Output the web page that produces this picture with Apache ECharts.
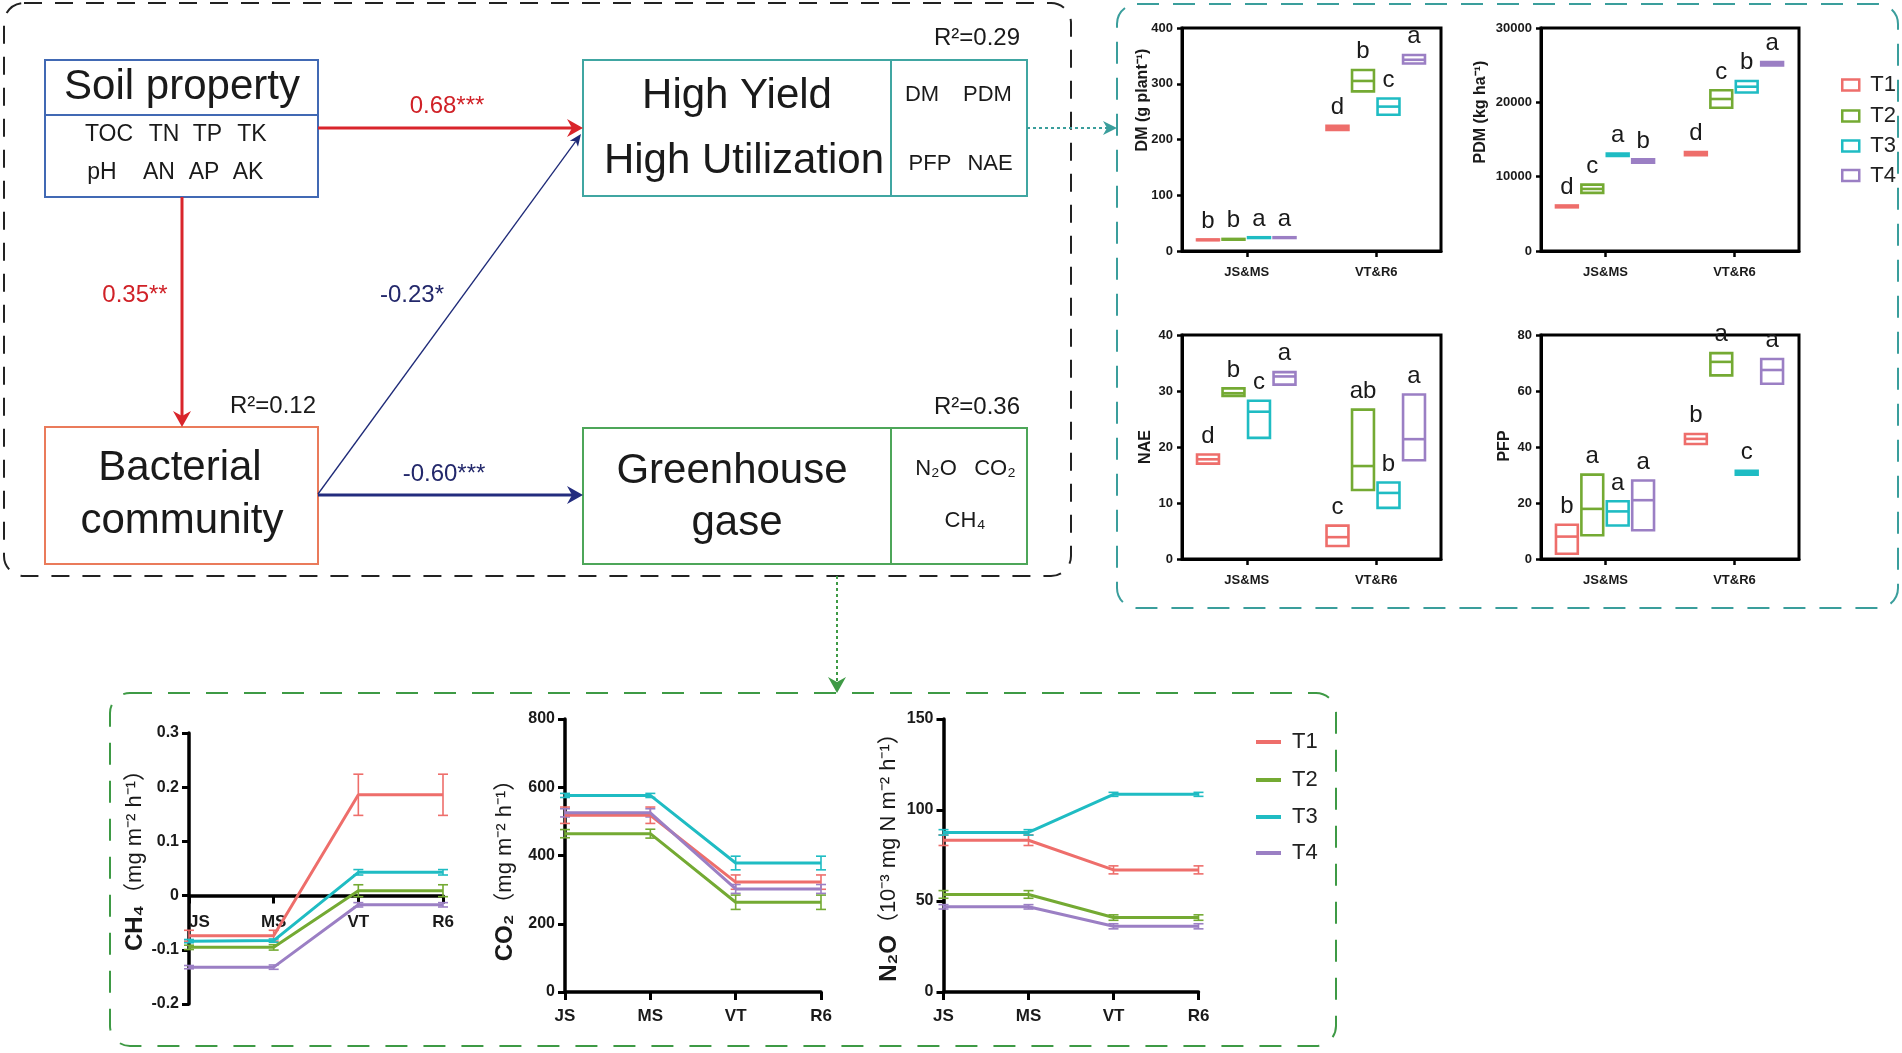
<!DOCTYPE html>
<html><head><meta charset="utf-8">
<script src="https://cdn.jsdelivr.net/npm/echarts@6/dist/echarts.min.js"></script>
<style>html,body{margin:0;padding:0;background:#fff}#c{width:1902px;height:1053px}</style>
</head><body><div id="c"></div>
<script>
// ---------------- data ----------------
const treatments = ['T1', 'T2', 'T3', 'T4'];
const stageGroups = ['JS&MS', 'VT&R6'];
const stages = ['JS', 'MS', 'VT', 'R6'];

// floating boxes per treatment: [JS&MS, VT&R6], each [low, median, high]
const dmBoxes = [
  [[17, 20, 23], [215, 221, 227]],
  [[18, 21, 24], [284, 305, 327]],
  [[21, 24, 27], [242, 259, 276]],
  [[21, 24, 27], [334, 343, 354]]
];
const pdmBoxes = [
  [[5700, 6000, 6300], [12700, 13100, 13500]],
  [[7650, 8350, 9100], [19100, 20450, 21800]],
  [[12600, 12950, 13300], [21150, 22100, 23050]],
  [[11700, 12100, 12500], [24800, 25200, 25600]]
];
const naeBoxes = [
  [[16.8, 17.8, 18.9], [2.1, 3.9, 6.2]],
  [[28.9, 29.6, 30.7], [12.1, 16.6, 26.9]],
  [[21.4, 26.3, 28.5], [8.9, 11.8, 13.9]],
  [[30.9, 32.6, 33.6], [17.4, 21.4, 29.6]]
];
const pfpBoxes = [
  [[1.4, 8.0, 12.7], [40.6, 42.9, 45.1]],
  [[8.0, 17.9, 30.6], [65.1, 70.4, 74.0]],
  [[11.5, 17.0, 21.1], [29.6, 30.8, 32.0]],
  [[9.8, 21.0, 28.5], [62.1, 67.5, 71.9]]
];
// significance letters per treatment: [JS&MS, VT&R6]
const dmLetters = [['b', 'd'], ['b', 'b'], ['a', 'c'], ['a', 'a']];
const pdmLetters = [['d', 'd'], ['c', 'c'], ['a', 'b'], ['b', 'a']];
const naeLetters = [['d', 'c'], ['b', 'ab'], ['c', 'b'], ['a', 'a']];
const pfpLetters = [['b', 'b'], ['a', 'a'], ['a', 'c'], ['a', 'a']];

// greenhouse gas fluxes per treatment over stages JS, MS, VT, R6
const ch4Mean = [[-0.074, -0.074, 0.186, 0.186], [-0.0955, -0.0955, 0.009, 0.009], [-0.084, -0.083, 0.043, 0.043], [-0.132, -0.132, -0.017, -0.017]];
const ch4Err = [[0.010, 0.010, 0.038, 0.038], [0.004, 0.005, 0.011, 0.011], [0.003, 0.003, 0.005, 0.005], [0.003, 0.004, 0.004, 0.004]];
const co2Mean = [[518, 518, 322, 322], [464, 464, 263, 263], [576, 576, 378, 378], [525, 525, 302, 302]];
const co2Err = [[24, 24, 21, 21], [12, 13, 21, 21], [6, 6, 20, 20], [12, 12, 13, 13]];
const n2oMean = [[83.4, 83.4, 67.1, 67.1], [53.6, 53.6, 40.9, 40.9], [87.7, 87.7, 108.6, 108.6], [46.8, 46.8, 36.1, 36.1]];
const n2oErr = [[2.9, 2.9, 2.2, 2.2], [2.1, 2.1, 1.5, 1.5], [1.5, 1.5, 1.1, 1.1], [1.2, 1.2, 1.4, 1.4]];

// ---------------- style ----------------
const colors = ['#EE6E6B', '#74AA33', '#1FBCC3', '#9B7FC4'];
const FF = "'Liberation Sans', Arial, 'Noto Sans CJK SC', sans-serif";
const INK = '#1a1a1a';

const chart = echarts.init(document.getElementById('c'), null, {renderer: 'canvas', width: 1902, height: 1053});

const grids = [
  {left: 1182, top: 28, width: 259, height: 223},
  {left: 1541, top: 28, width: 258, height: 223},
  {left: 1182, top: 335, width: 259, height: 224},
  {left: 1541, top: 335, width: 258, height: 224},
  {left: 189, top: 733, width: 254, height: 271},
  {left: 565, top: 719, width: 256, height: 273},
  {left: 943.5, top: 719, width: 255, height: 273}
].map((g, i) => Object.assign({
  show: i < 4, borderColor: '#000', borderWidth: 3, backgroundColor: 'rgba(0,0,0,0)',
  containLabel: false, outerBoundsMode: 'none'
}, g));

const plain = v => String(v);
const xAxes = [], yAxes = [];
const topY = [[0, 400, 100], [0, 30000, 10000], [0, 40, 10], [0, 80, 20]];
for (let k = 0; k < 4; k++) {
  xAxes.push({
    gridIndex: k, type: 'category', data: stageGroups, boundaryGap: true,
    axisLine: {show: true, lineStyle: {color: '#000', width: 3}},
    axisTick: {show: true, alignWithLabel: true, length: 6, lineStyle: {color: '#000', width: 2.5}},
    axisLabel: {fontSize: 13, fontWeight: 'bold', color: INK, margin: 15, fontFamily: FF},
    splitLine: {show: false}
  });
  yAxes.push({
    gridIndex: k, type: 'value', min: topY[k][0], max: topY[k][1], interval: topY[k][2],
    axisLine: {show: true, lineStyle: {color: '#000', width: 3}},
    axisTick: {show: true, length: 5, lineStyle: {color: '#000', width: 2.5}},
    axisLabel: {fontSize: 13, fontWeight: 'bold', color: INK, margin: 9, fontFamily: FF, formatter: plain},
    splitLine: {show: false}
  });
}
const botY = [[-0.2, 0.3, 0.1], [0, 800, 200], [0, 150, 50]];
// CH4 x axis sits on the zero line: offset = distance from grid bottom up to y = 0
const ch4ZeroOffset = -271 * (0 - botY[0][0]) / (botY[0][1] - botY[0][0]);
for (let k = 0; k < 3; k++) {
  xAxes.push({
    gridIndex: 4 + k, type: 'category', data: stages, boundaryGap: false,
    offset: k === 0 ? ch4ZeroOffset : 0,
    axisLine: {show: true, onZero: false, lineStyle: {color: '#000', width: 3.5}},
    axisTick: {show: true, length: 8, lineStyle: {color: '#000', width: 3}},
    axisLabel: Object.assign({fontSize: 17, fontWeight: 'bold', color: INK, margin: k === 0 ? 18 : 16, fontFamily: FF},
      k === 0 ? {alignMinLabel: 'left'} : {}),
    splitLine: {show: false}
  });
  yAxes.push({
    gridIndex: 4 + k, type: 'value', min: botY[k][0], max: botY[k][1], interval: botY[k][2],
    axisLine: {show: true, onZero: false, lineStyle: {color: '#000', width: 3.5}},
    axisTick: {show: true, length: 7, lineStyle: {color: '#000', width: 3}},
    axisLabel: {fontSize: 16, fontWeight: 'bold', color: INK, margin: 10, fontFamily: FF, formatter: plain},
    splitLine: {show: false}
  });
}

function boxRender(ti, letters) {
  return function (params, api) {
    const g = api.value(0);
    const lo = api.value(1), md = api.value(2), hi = api.value(3);
    const c = api.coord([g, 0])[0];
    const band = api.size([1, 0])[0];
    const w = band * 0.197;
    const x0 = c - 2 * w + ti * w;
    const lw = 2.6;
    const yH = api.coord([g, hi])[1], yL = api.coord([g, lo])[1], yM = api.coord([g, md])[1];
    const h = Math.max(yL - yH - lw, 0.2);
    const st = {fill: 'none', stroke: colors[ti], lineWidth: lw};
    return {
      type: 'group', children: [
        {type: 'rect', shape: {x: x0 + lw / 2, y: yH + lw / 2, width: w - lw - 1, height: h}, style: st},
        {type: 'line', shape: {x1: x0 + lw / 2, y1: yM, x2: x0 + w - lw / 2 - 1, y2: yM}, style: {stroke: colors[ti], lineWidth: lw}},
        {type: 'text', x: x0 + w / 2 - 0.5, y: yH - 5, style: {
          text: letters[ti][params.dataIndex], fontSize: 24, fontFamily: FF, fill: INK,
          align: 'center', verticalAlign: 'bottom'}}
      ]
    };
  };
}
function errRender(ti) {
  return function (params, api) {
    const p1 = api.coord([api.value(0), api.value(1)]);
    const p2 = api.coord([api.value(0), api.value(2)]);
    const x = p1[0], cw = 5;
    const st = {stroke: colors[ti], lineWidth: 1.6};
    return {
      type: 'group', children: [
        {type: 'line', shape: {x1: x, y1: p1[1], x2: x, y2: p2[1]}, style: st},
        {type: 'line', shape: {x1: x - cw, y1: p1[1], x2: x + cw, y2: p1[1]}, style: st},
        {type: 'line', shape: {x1: x - cw, y1: p2[1], x2: x + cw, y2: p2[1]}, style: st}
      ]
    };
  };
}

const series = [];
const panels = [[dmBoxes, dmLetters], [pdmBoxes, pdmLetters], [naeBoxes, naeLetters], [pfpBoxes, pfpLetters]];
panels.forEach((p, k) => {
  treatments.forEach((t, ti) => {
    series.push({
      type: 'custom', name: t, xAxisIndex: k, yAxisIndex: k,
      itemStyle: {color: colors[ti]},
      encode: {x: 0, y: [1, 2, 3]},
      data: p[0][ti].map((b, g) => [g, b[0], b[1], b[2]]),
      renderItem: boxRender(ti, p[1]), z: 5, silent: true
    });
  });
});
const gas = [[ch4Mean, ch4Err], [co2Mean, co2Err], [n2oMean, n2oErr]];
gas.forEach((gp, k) => {
  treatments.forEach((t, ti) => {
    series.push({
      type: 'custom', name: t + ' SE', xAxisIndex: 4 + k, yAxisIndex: 4 + k,
      encode: {x: 0, y: [1, 2]},
      data: gp[0][ti].map((m, i) => [i, m - gp[1][ti][i], m + gp[1][ti][i]]),
      renderItem: errRender(ti), z: 4, silent: true
    });
    series.push({
      type: 'line', name: t, xAxisIndex: 4 + k, yAxisIndex: 4 + k,
      data: gp[0][ti], symbol: 'none', showSymbol: false,
      lineStyle: {color: colors[ti], width: 3}, itemStyle: {color: colors[ti]}, z: 5, silent: true
    });
  });
});

// legends
const legends = [];
const topLegY = [85, 116, 146, 175.5];
const botLegY = [742, 780, 817, 853];
treatments.forEach((t, i) => {
  legends.push({
    left: 1841, top: topLegY[i] - 11, orient: 'vertical', padding: 0, itemWidth: 17, itemHeight: 11,
    selectedMode: false,
    data: [{name: t, icon: 'rect', itemStyle: {color: 'rgba(255,255,255,0)', borderColor: colors[i], borderWidth: 2.5}}],
    textStyle: {fontSize: 22, color: '#222', lineHeight: 22, padding: [0, 0, 0, 6], fontFamily: FF}
  });
  legends.push({
    left: 1256, top: botLegY[i] - 11, orient: 'vertical', padding: 0, itemWidth: 25, itemHeight: 4,
    selectedMode: false,
    data: [{name: t, icon: 'rect', itemStyle: {color: colors[i], borderWidth: 0}}],
    textStyle: {fontSize: 22, color: '#222', lineHeight: 22, padding: [0, 0, 0, 6], fontFamily: FF}
  });
});

// ---------------- path diagram (graphic) ----------------
const G = [];
function T(text, x, y, size, o) {
  o = o || {};
  G.push({
    type: 'text', x: x, y: y, rotation: o.rot || 0, z: 10,
    style: Object.assign({
      text: text, fontSize: size, fontFamily: FF, fontWeight: o.bold ? 'bold' : 'normal',
      fill: o.color || INK, align: o.align || 'center', verticalAlign: 'middle'
    }, o.rich ? {rich: o.rich} : {})
  });
}
function R(x, y, w, h, stroke, extra) {
  G.push({type: 'rect', shape: Object.assign({x: x, y: y, width: w, height: h}, extra && extra.r ? {r: extra.r} : {}),
    style: Object.assign({fill: 'none', stroke: stroke, lineWidth: 2}, extra && extra.dash ? {lineDash: extra.dash} : {}), z: 1});
}
function L(x1, y1, x2, y2, stroke, lw, dash) {
  G.push({type: 'line', shape: {x1: x1, y1: y1, x2: x2, y2: y2},
    style: Object.assign({stroke: stroke, lineWidth: lw}, dash ? {lineDash: dash} : {}), z: 2});
}
function arrow(x1, y1, tx, ty, color, lw, len, hw, notch, dash) {
  const ang = Math.atan2(ty - y1, tx - x1);
  const c = Math.cos(ang), s = Math.sin(ang);
  const ex = tx - (len - notch) * c, ey = ty - (len - notch) * s;
  L(x1, y1, ex, ey, color, lw, dash);
  const bx = tx - len * c, by = ty - len * s, px = -s, py = c;
  G.push({type: 'polygon', z: 3, shape: {points: [[tx, ty], [bx + hw * px, by + hw * py], [ex, ey], [bx - hw * px, by - hw * py]]},
    style: {fill: color}});
}

// dashed frames
R(4, 3, 1067, 573, '#222', {r: 20, dash: [18, 13]});
R(1117, 4, 781, 604, '#3A9E9C', {r: 20, dash: [22, 14]});
R(110, 693, 1226, 353, '#3E9A45', {r: 20, dash: [22, 16]});

// boxes
R(45, 60, 273, 137, '#4169B4'); L(45, 115, 318, 115, '#4169B4', 2);
R(583, 60, 444, 136, '#40A6A2'); L(891, 60, 891, 196, '#40A6A2', 2);
R(45, 427, 273, 137, '#EA7B5B');
R(583, 428, 444, 136, '#4DA659'); L(891, 428, 891, 564, '#4DA659', 2);

// arrows
arrow(318, 128, 583, 128, '#D9252B', 3, 16, 9, 5);
arrow(182, 197, 182, 427, '#D9252B', 3, 16, 9, 5);
arrow(318, 494, 581, 134, '#1E2A78', 1.3, 12, 5, 3);
arrow(318, 495, 583, 495, '#232C7E', 3, 16, 9, 5);
arrow(1027, 128, 1117, 128, '#3A9E9C', 2, 14, 7, 4, [3, 3]);
arrow(837, 576, 837, 693, '#3E9A45', 2, 16, 9, 5, [3, 3]);

// diagram texts
T('Soil property', 182, 87, 42);
T('TOC', 109, 135, 23); T('TN', 164, 135, 23); T('TP', 207.5, 135, 23); T('TK', 252, 135, 23);
T('pH', 102, 173, 23); T('AN', 159, 173, 23); T('AP', 204, 173, 23); T('AK', 248, 173, 23);
T('0.68***', 447, 106, 24, {color: '#D02127'});
T('0.35**', 135, 295, 24, {color: '#D02127'});
T('-0.23*', 412, 295, 24, {color: '#23286B'});
T('-0.60***', 444, 474, 24, {color: '#23286B'});
T('R²=0.12', 316, 406, 24, {align: 'right'});
T('Bacterial', 180, 468, 42);
T('community', 182, 521, 42);
T('High Yield', 737, 96, 42);
T('High Utilization', 744, 161, 42);
T('DM', 922, 95, 22); T('PDM', 987.5, 95, 22);
T('PFP', 930, 164, 22); T('NAE', 990, 164, 22);
T('R²=0.29', 1020, 38, 24, {align: 'right'});
T('Greenhouse', 732, 471, 42);
T('gase', 737, 523, 42);
T('N₂O', 936, 469, 22); T('CO₂', 995, 469, 22);
T('CH₄', 965, 521, 22);
T('R²=0.36', 1020, 407, 24, {align: 'right'});

// axis names (rotated)
const RT = Math.PI / 2;
T('DM (g plant⁻¹)', 1143, 100, 16, {rot: RT, bold: true});
T('PDM (kg ha⁻¹)', 1481, 112, 16, {rot: RT, bold: true});
T('NAE', 1146, 447, 16, {rot: RT, bold: true});
T('PFP', 1505, 446, 16, {rot: RT, bold: true});
const nameRich = {b: {fontSize: 24, fontWeight: 'bold', fontFamily: FF, fill: INK}, n: {fontSize: 22, fontFamily: FF, fill: INK}};
T('{b|CH₄}{n|（mg m⁻² h⁻¹）}', 135, 855, 22, {rot: RT, rich: nameRich});
T('{b|CO₂}{n|（mg m⁻² h⁻¹）}', 505, 865, 22, {rot: RT, rich: nameRich});
T('{b|N₂O}{n|（10⁻³ mg N m⁻² h⁻¹）}', 889, 852, 22, {rot: RT, rich: nameRich});

chart.setOption({
  animation: false,
  backgroundColor: '#ffffff',
  textStyle: {fontFamily: FF},
  grid: grids,
  xAxis: xAxes,
  yAxis: yAxes,
  legend: legends,
  series: series,
  graphic: {elements: G}
});
</script>
</body></html>
